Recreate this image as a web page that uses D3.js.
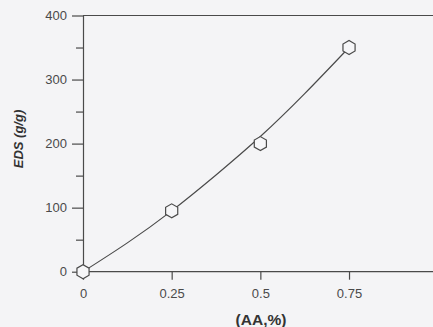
<!DOCTYPE html>
<html><head><meta charset="utf-8">
<script src="https://cdn.jsdelivr.net/npm/d3@7"></script>
<style>
html,body{margin:0;padding:0;background:#f4f4f6;}
svg{display:block;}
</style></head>
<body>
<svg id="c" width="433" height="327"></svg>
<script>
// data
const aaPercent = [0, 0.25, 0.5, 0.75];
const edsValues = [0, 95, 200, 350];
// smooth fitted line
const fitX = [0, 0.125, 0.25, 0.375, 0.5, 0.625, 0.75];
const fitY = [0, 45, 95, 151, 211, 278, 350];
const xTicks = [0, 0.25, 0.5, 0.75];
const xTickLabels = ["0", "0.25", "0.5", "0.75"];
const yTicks = [0, 100, 200, 300, 400];
const yMinor = [50, 150, 250, 350];

const svg = d3.select("#c");
const ink = "#4a4a4a";
const x = d3.scaleLinear().domain([0, 1]).range([83, 437.7]);
const y = d3.scaleLinear().domain([0, 400]).range([271.7, 15.5]);

// top frame line
svg.append("line").attr("x1", x(0)).attr("x2", 433).attr("y1", y(400)).attr("y2", y(400))
  .attr("stroke", ink).attr("stroke-width", 1.2);

// x axis
const xa = svg.append("g").attr("transform", `translate(0,${y(0)})`)
  .call(d3.axisBottom(x).tickValues(xTicks).tickFormat((d,i)=>xTickLabels[i]).tickSize(8).tickSizeOuter(0).tickPadding(9));
xa.select(".domain").attr("d", `M${x(0)},0H433`);
// y axis
const ya = svg.append("g").attr("transform", `translate(${x(0)},0)`)
  .call(d3.axisLeft(y).tickValues(yTicks).tickSize(11).tickSizeOuter(0).tickPadding(5));
svg.append("g").attr("transform", `translate(${x(0)},0)`)
  .call(d3.axisLeft(y).tickValues(yMinor).tickSize(7).tickFormat("").tickSizeOuter(0))
  .select(".domain").remove();

svg.selectAll(".domain, .tick line").attr("stroke", ink).attr("stroke-width", 1.2);
svg.selectAll(".tick text").attr("fill", "#4a4a4a").style("font-family", "Arial, 'Liberation Sans', sans-serif").style("font-size", "13px");

// fitted curve
const fit = fitX.map((v,i)=>[v, fitY[i]]);
svg.append("path").datum(fit)
  .attr("d", d3.line().x(d=>x(d[0])).y(d=>y(d[1])).curve(d3.curveNatural))
  .attr("fill", "none").attr("stroke", ink).attr("stroke-width", 1.2);

// hexagon markers
const hex = r => d3.range(6).map(k => {
  const a = Math.PI/2 + k*Math.PI/3;
  return [r*Math.cos(a), r*Math.sin(a)];
});
svg.selectAll(".pt").data(aaPercent.map((v,i)=>[v, edsValues[i]])).enter()
  .append("path").attr("class","pt")
  .attr("transform", d=>`translate(${x(d[0])},${y(d[1])})`)
  .attr("d", "M" + hex(7).join("L") + "Z")
  .attr("fill", "#f6f6f8").attr("stroke", ink).attr("stroke-width", 1.2);

// labels
svg.append("text").attr("x", 261).attr("y", 325).attr("text-anchor", "middle")
  .attr("fill", "#333").style("font-family", "Arial, 'Liberation Sans', sans-serif")
  .style("font-size", "15.5px").style("font-weight", "bold").text("(AA,%)");
svg.append("text").attr("transform", "translate(23,139) rotate(-90)").attr("text-anchor", "middle")
  .attr("fill", "#333").style("font-family", "Arial, 'Liberation Sans', sans-serif")
  .style("font-size", "13px").style("font-weight", "bold").style("font-style", "italic").text("EDS (g/g)");
</script>
</body></html>
